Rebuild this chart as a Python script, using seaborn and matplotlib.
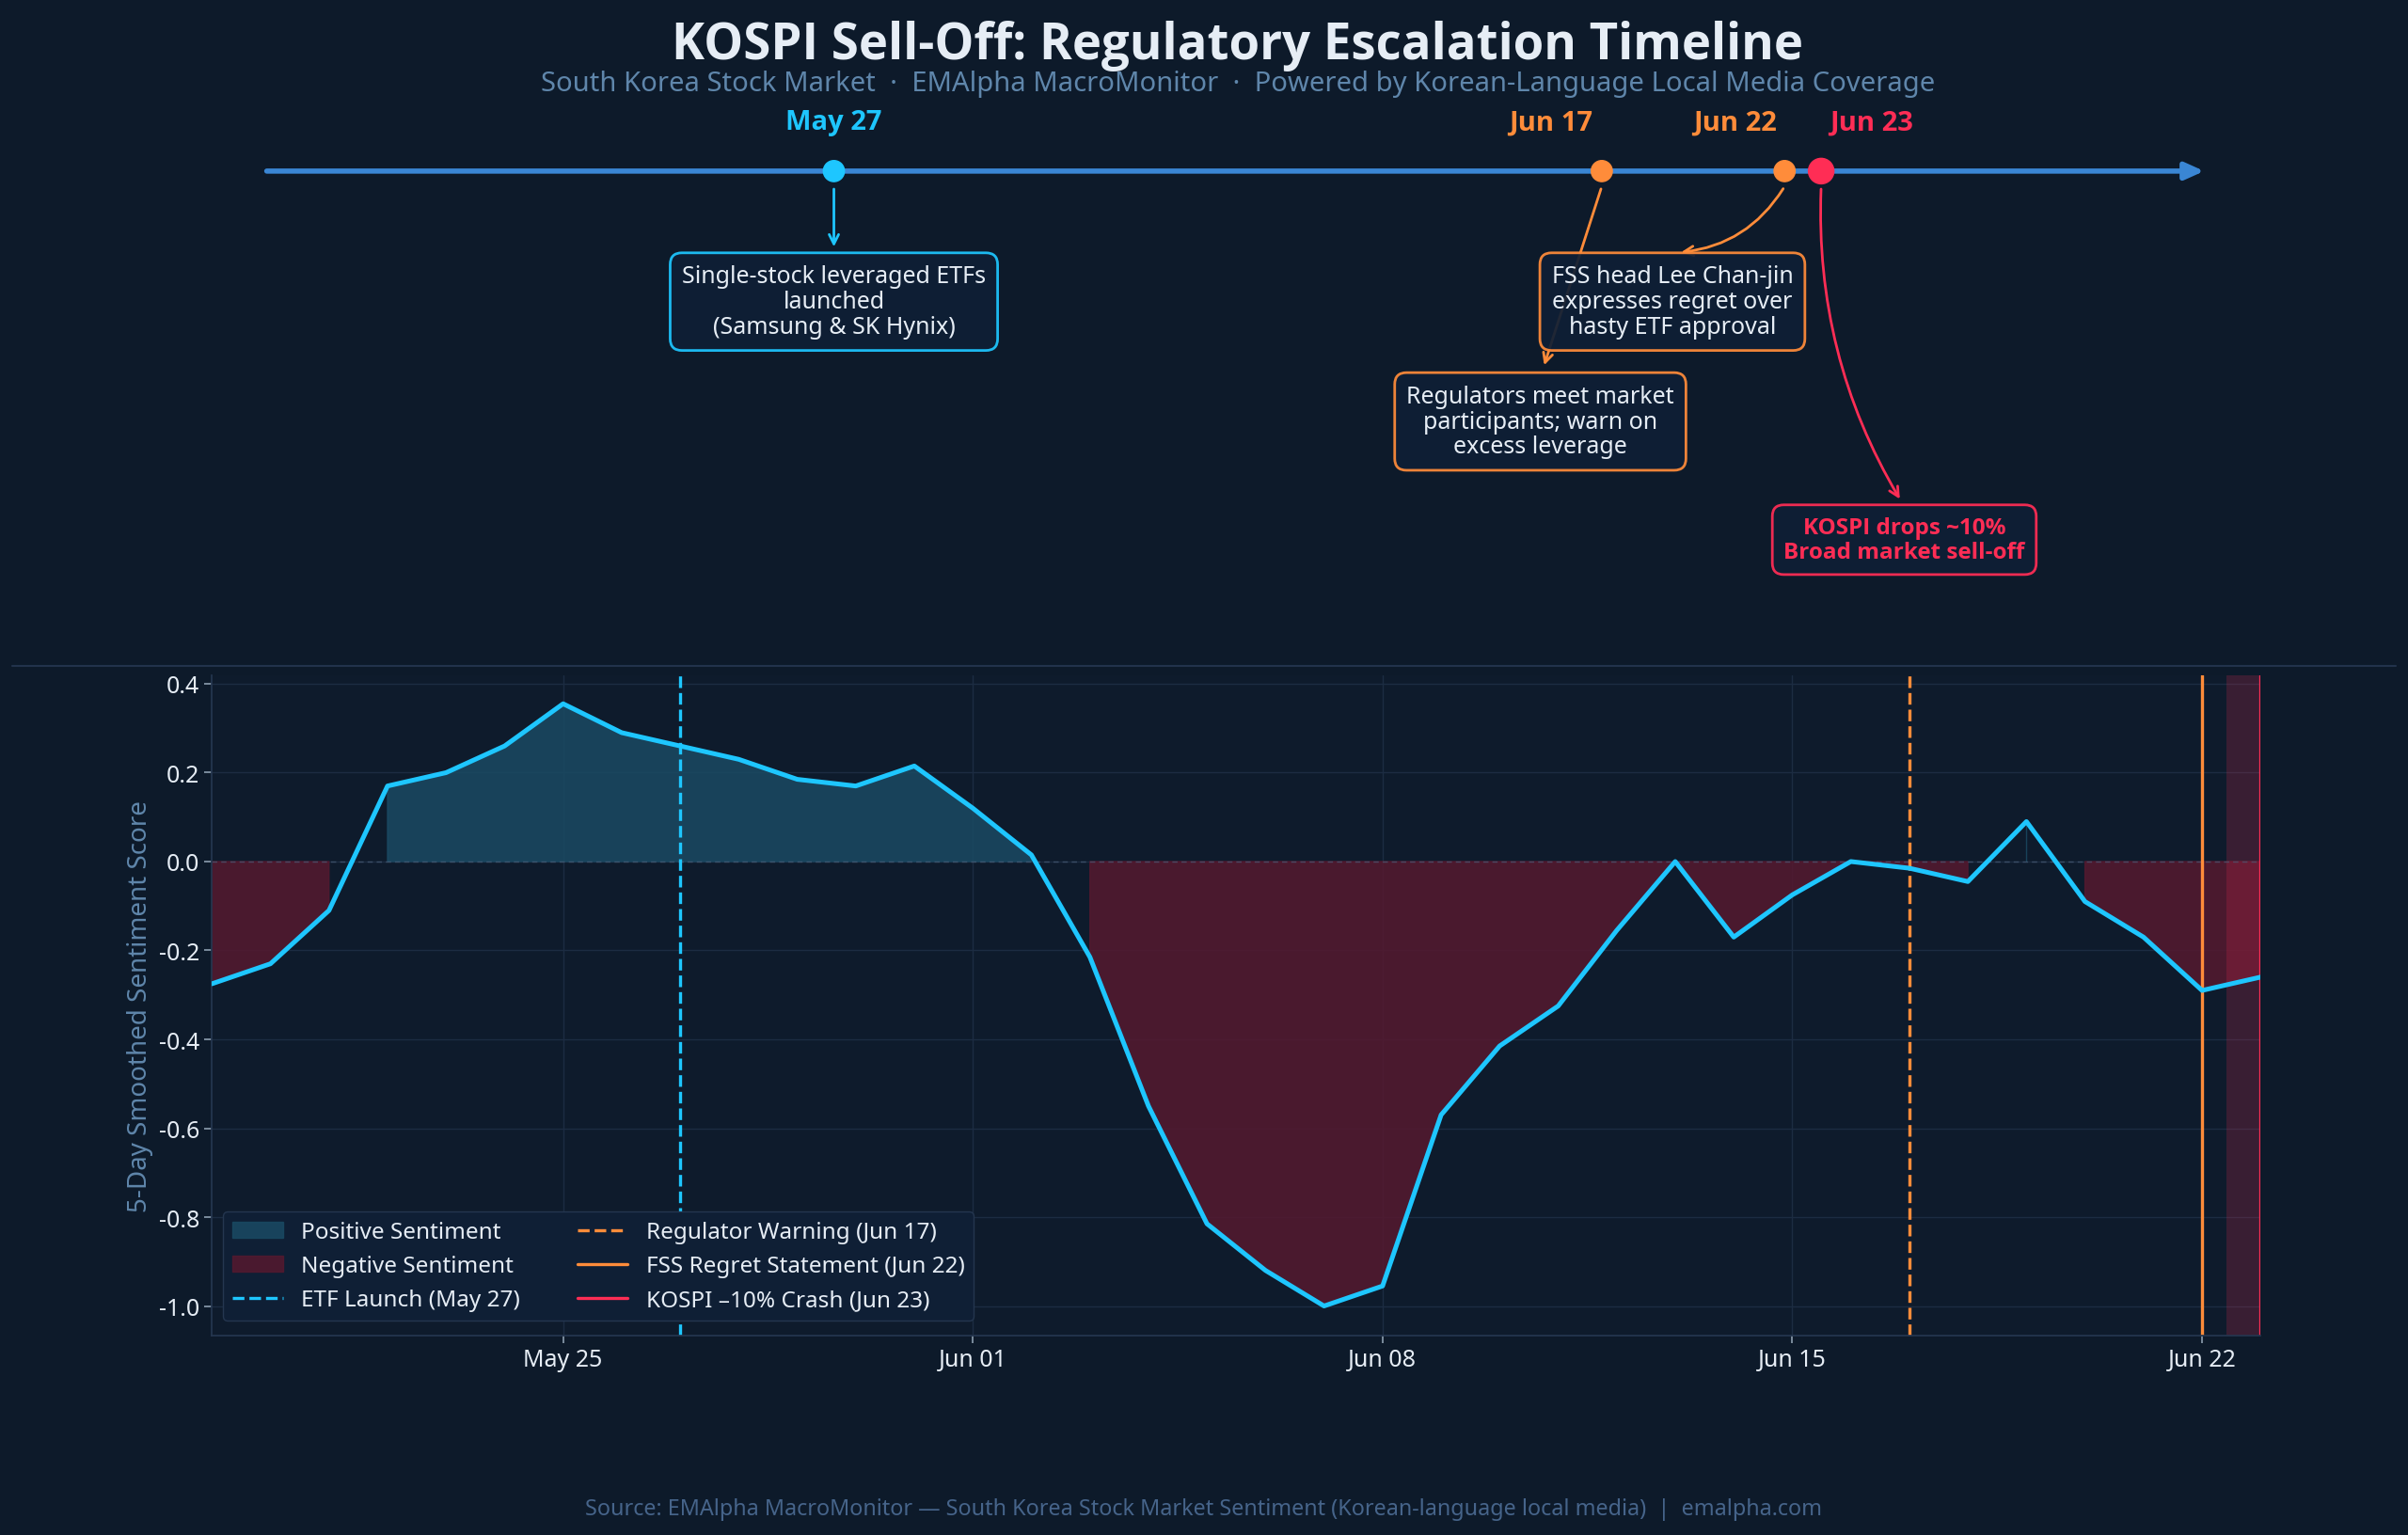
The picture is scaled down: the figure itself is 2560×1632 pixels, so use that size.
import numpy as np
import pandas as pd
import matplotlib
matplotlib.use("Agg")
import matplotlib.pyplot as plt
import matplotlib.dates as mdates
import seaborn as sns

dates = pd.date_range("2025-05-19", "2025-06-23", freq="D")
sentiment = [-0.275, -0.23, -0.11, 0.17, 0.20, 0.26, 0.355, 0.29, 0.26, 0.23, 0.185, 0.17,
             0.215, 0.12, 0.015, -0.215, -0.55, -0.815, -0.92, -1.0, -0.955, -0.57, -0.415,
             -0.325, -0.155, 0.0, -0.17, -0.075, 0.0, -0.015, -0.045, 0.09, -0.09, -0.17,
             -0.29, -0.26]
event_dates = pd.to_datetime(["2025-05-27", "2025-06-17", "2025-06-22", "2025-06-23"])
event_labels = ["May 27", "Jun 17", "Jun 22", "Jun 23"]
event_texts = ["Single-stock leveraged ETFs\nlaunched\n(Samsung & SK Hynix)",
               "Regulators meet market\nparticipants; warn on\nexcess leverage",
               "FSS head Lee Chan-jin\nexpresses regret over\nhasty ETF approval",
               "KOSPI drops ~10%\nBroad market sell-off"]
legend_labels = ["Positive Sentiment", "Negative Sentiment", "ETF Launch (May 27)",
                 "Regulator Warning (Jun 17)", "FSS Regret Statement (Jun 22)", "KOSPI \u201310% Crash (Jun 23)"]

BG = "#0d1a2a"
CYAN = "#1ec6ff"
ORANGE = "#ff8c3a"
RED = "#ff2d55"
BLUE = "#3a86d4"
TXT = "#e6edf5"
SUB = "#5f86ab"
BOLD = ["Open Sans", "Noto Sans", "DejaVu Sans"]

sns.set_theme(style="dark")
plt.rcParams["font.family"] = ["Noto Sans", "DejaVu Sans"]

fig = plt.figure(figsize=(25.6, 16.33), dpi=100, facecolor=BG)
df = pd.DataFrame({"date": dates, "score": sentiment})

# ---------------- main chart ----------------
ax = fig.add_axes([138/1568, 1-870/1000, (1472-138)/1568, (870-440)/1000])
ax.set_facecolor("#0e1b2c")
y = np.array(sentiment)
ax.fill_between(dates, y, 0, where=y > 0, color="#1a4a63", alpha=0.85, label=legend_labels[0])
ax.fill_between(dates, y, 0, where=y <= 0, color="#55192f", alpha=0.85, label=legend_labels[1])
sns.lineplot(data=df, x="date", y="score", ax=ax, color=CYAN, lw=3.6, zorder=5)
ax.axhline(0, color="#4a5d78", lw=1, ls=(0, (4, 3)), alpha=0.7)
ax.axvline(event_dates[0], color=CYAN, lw=2.4, ls="--", label=legend_labels[2])
ax.axvline(event_dates[1], color=ORANGE, lw=2.4, ls="--", label=legend_labels[3])
ax.axvline(event_dates[2], color=ORANGE, lw=2.4, label=legend_labels[4])
ax.axvline(event_dates[3], color=RED, lw=2.4, label=legend_labels[5])
ax.axvspan(event_dates[2] + pd.Timedelta(hours=10), event_dates[3], color=RED, alpha=0.18, lw=0)
ax.set_xlim(dates[0], dates[-1])
ax.set_ylim(-1.066, 0.42)
ax.set_yticks([0.4, 0.2, 0.0, -0.2, -0.4, -0.6, -0.8, -1.0])
ax.yaxis.set_major_formatter(matplotlib.ticker.FuncFormatter(lambda v, p: f"{v:.1f}".replace("\u2212", "-")))
ax.xaxis.set_major_locator(mdates.WeekdayLocator(byweekday=mdates.SU))
ax.xaxis.set_major_formatter(mdates.DateFormatter("%b %d"))
ax.tick_params(colors=TXT, labelsize=18, length=6, color="#8899aa", left=True, bottom=True)
ax.grid(True, color="#1c2c42", lw=1)
ax.set_xlabel("")
ax.set_ylabel("5-Day Smoothed Sentiment Score", color=SUB, fontsize=20)
for s in ["top", "right"]:
    ax.spines[s].set_visible(False)
for s in ["left", "bottom"]:
    ax.spines[s].set_color("#25364f")
h, l = ax.get_legend_handles_labels()
order = [l.index(t) for t in legend_labels]
leg = ax.legend([h[i] for i in order], [l[i] for i in order], ncol=2, loc="lower left",
                fontsize=17.5, facecolor="#0f1f35", edgecolor="#24364f", framealpha=1,
                labelcolor=TXT, bbox_to_anchor=(0.0, 0.005), columnspacing=2.5, handlelength=2.2)

# ---------------- timeline (overlay) ----------------
tl = fig.add_axes([0, 0, 1, 1], facecolor="none")
tl.set_axis_off()
ppd = 23.81
left = mdates.date2num(event_dates[0]) - 543 / ppd
tl.set_xlim(left, left + 1568 / ppd)
tl.set_ylim(1000, 0)

fig.add_artist(plt.Line2D([8/1568, 1560/1568], [1-434/1000]*2, color="#22334c", lw=1.5))

start = left + 172 / ppd
end = left + 1437 / ppd
tl.annotate("", xy=(end, 112), xytext=(start, 112),
            arrowprops=dict(arrowstyle="-|>,head_length=1.0,head_width=0.45", color=BLUE, lw=4))

ev_colors = [CYAN, ORANGE, ORANGE, RED]
ev_sizes = [260, 260, 260, 380]
xs = mdates.date2num(event_dates)
tl.scatter(xs, [112]*4, s=ev_sizes, c=ev_colors, zorder=6)
label_off = [0, -33, -32, 33]
for x, lab, c, o in zip(xs, event_labels, ev_colors, label_off):
    tl.annotate(lab, xy=(x, 80), xytext=(o * 1.633 / 1.389, 0), textcoords="offset points",
                ha="center", va="center", color=c, fontsize=21, fontweight="bold", family=BOLD)

box_pos = [(543, 197), (1003, 275), (1089, 197), (1240, 352)]
arrow_end = [(543, 163), (1005, 240), (1093, 165), (1238, 327)]
rads = [0.0, 0.0, -0.25, 0.15]
for i in range(4):
    x = xs[i]
    c = ev_colors[i]
    bx, by = box_pos[i]
    ax_, ay_ = arrow_end[i]
    tl.annotate("", xy=(left + ax_ / ppd, ay_), xytext=(x, 122),
                arrowprops=dict(arrowstyle="->,head_length=0.6,head_width=0.3", color=c, lw=2,
                                connectionstyle=f"arc3,rad={rads[i]}"), zorder=3)
    tl.text(left + bx / ppd, by, event_texts[i], ha="center", va="center",
            fontsize=18 if i < 3 else 17.5, color=TXT if i < 3 else RED,
            fontweight="normal" if i < 3 else "bold", family=["Noto Sans"] if i < 3 else BOLD,
            linespacing=1.1, zorder=4,
            bbox=dict(boxstyle="round,pad=0.5,rounding_size=0.5", fc="#0f1f35", ec=c, lw=2, alpha=0.93))

fig.text(0.514, 1-30/1000, "KOSPI Sell-Off: Regulatory Escalation Timeline", ha="center", va="center",
         color=TXT, fontsize=38, fontweight="bold", family=BOLD)
fig.text(0.514, 1-55/1000, "South Korea Stock Market  \u00b7  EMAlpha MacroMonitor  \u00b7  Powered by Korean-Language Local Media Coverage",
         ha="center", va="center", color=SUB, fontsize=21)
fig.text(0.5, 1-983/1000, "Source: EMAlpha MacroMonitor \u2014 South Korea Stock Market Sentiment (Korean-language local media)  |  emalpha.com",
         ha="center", va="center", color="#46648a", fontsize=16.8)

fig.savefig("out.png", dpi=100, facecolor=BG)
